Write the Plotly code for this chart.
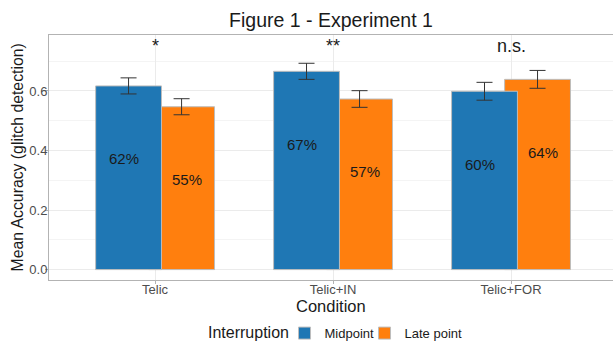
import plotly.graph_objects as go

conditions = ["Telic", "Telic+IN", "Telic+FOR"]
mid_mean = [0.617, 0.666, 0.599]
mid_se = [0.027, 0.027, 0.030]
late_mean = [0.547, 0.573, 0.639]
late_se = [0.027, 0.028, 0.030]
mid_labels = ["62%", "67%", "60%"]
late_labels = ["55%", "57%", "64%"]
sig_labels = ["*", "**", "n.s."]

BLUE = "#1f77b4"
ORANGE = "#ff7f0e"
FONT = "Liberation Sans, Arial, sans-serif"

bar_w = 0.37
dodge = 0.149
label_dodge = 0.177
label_drop = 0.245
sig_y = 0.75

fig = go.Figure()
# Late point drawn first so Midpoint sits on top
fig.add_trace(go.Bar(
    x=conditions, y=late_mean, name="Late point",
    marker=dict(color=ORANGE, line=dict(color="#bdbdbd", width=1)),
    width=bar_w, offset=dodge - bar_w / 2,
    error_y=dict(type="data", array=late_se, color="#333333", thickness=1, width=8),
    legendrank=2, legendwidth=90,
))
fig.add_trace(go.Bar(
    x=conditions, y=mid_mean, name="Midpoint",
    marker=dict(color=BLUE, line=dict(color="#bdbdbd", width=1)),
    width=bar_w, offset=-dodge - bar_w / 2,
    error_y=dict(type="data", array=mid_se, color="#333333", thickness=1, width=8),
    legendrank=1, legendwidth=35,
))

annotations = []
for i in range(len(conditions)):
    annotations.append(dict(x=i - label_dodge, y=mid_mean[i] - label_drop, xref="x", yref="y",
                            text=mid_labels[i], showarrow=False,
                            font=dict(size=15, color="#1a1a1a", family=FONT)))
    annotations.append(dict(x=i + label_dodge, y=late_mean[i] - label_drop, xref="x", yref="y",
                            text=late_labels[i], showarrow=False,
                            font=dict(size=15, color="#1a1a1a", family=FONT)))
    annotations.append(dict(x=i, y=sig_y, xref="x", yref="y", text=sig_labels[i],
                            showarrow=False, font=dict(size=18, color="#1a1a1a", family=FONT)))

# axis titles
annotations.append(dict(x=-0.0567, y=0.5, xref="paper", yref="paper", textangle=-90,
                        text="Mean Accuracy (glitch detection)", showarrow=False,
                        xanchor="center", yanchor="middle",
                        font=dict(size=15.8, color="#1a1a1a", family=FONT)))
annotations.append(dict(x=0.5, y=-0.106, xref="paper", yref="paper",
                        text="Condition", showarrow=False,
                        xanchor="center", yanchor="middle",
                        font=dict(size=16.5, color="#1a1a1a", family=FONT)))
# legend title
annotations.append(dict(x=0.429, y=-0.2163, xref="paper", yref="paper",
                        text="Interruption", showarrow=False,
                        xanchor="right", yanchor="middle",
                        font=dict(size=16, color="#1a1a1a", family=FONT)))

fig.update_layout(
    width=613, height=341,
    margin=dict(l=49, r=0, t=35, b=61, autoexpand=False),
    barmode="overlay",
    plot_bgcolor="white", paper_bgcolor="white",
    font=dict(family=FONT, color="#1a1a1a"),
    title=dict(text="Figure 1 - Experiment 1", x=0.5, xref="paper", xanchor="center",
               y=0.941, yref="container", yanchor="middle",
               font=dict(size=19.5, color="#1a1a1a", family=FONT)),
    annotations=annotations,
    legend=dict(orientation="h", x=0.4176, xanchor="left", y=0.023, yref="container",
                yanchor="middle",
                font=dict(size=13, color="#1a1a1a"), itemwidth=30, traceorder="normal"),
    showlegend=True,
)
fig.update_xaxes(
    type="category", range=[-0.596, 2.573], automargin=False,
    showgrid=True, gridcolor="#ebebeb", gridwidth=1,
    showline=True, linecolor="#b3b3b3", linewidth=1, mirror=True,
    ticks="outside", ticklen=3, tickcolor="#b3b3b3", ticklabelstandoff=-6,
    tickfont=dict(size=13, color="#4d4d4d"),
    zeroline=False,
)
fig.update_yaxes(
    range=[-0.035, 0.788], automargin=False,
    tickvals=[0, 0.2, 0.4, 0.6], ticktext=["0.0", "0.2", "0.4", "0.6"],
    showgrid=True, gridcolor="#ebebeb", gridwidth=1,
    minor=dict(tickvals=[0.1, 0.3, 0.5, 0.7], showgrid=True, gridcolor="#f4f4f4", gridwidth=0.5),
    showline=True, linecolor="#b3b3b3", linewidth=1, mirror=True,
    ticks="outside", ticklen=3, tickcolor="#b3b3b3", ticklabelstandoff=-5,
    tickfont=dict(size=13, color="#4d4d4d"),
    zeroline=False,
)

fig.write_html("out.html", config={"displayModeBar": False},
               post_script="document.body.style.margin='0';document.body.style.overflow='hidden';")
